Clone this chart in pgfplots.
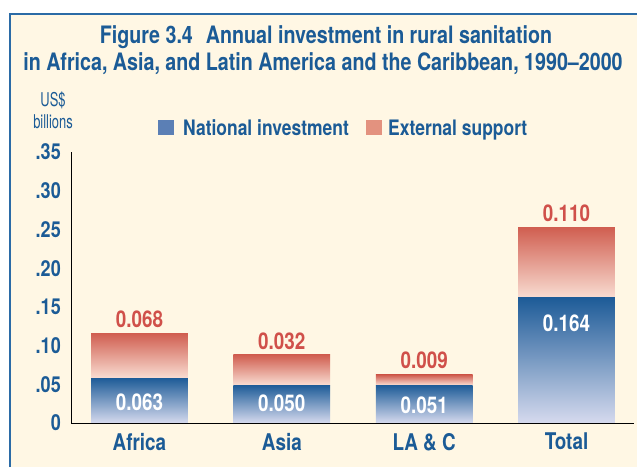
\documentclass[border=0pt]{standalone}
\usepackage{fontspec}
\setmainfont{TeX Gyre Heros}[FakeStretch=0.82]
\newfontfamily\narrowfont{TeX Gyre Heros}[FakeStretch=0.68]
\usepackage{pgfplots}
\pgfplotsset{compat=1.18}
\usepackage{pgfplotstable}

\definecolor{bg}{HTML}{FFF7E4}
\definecolor{frame}{HTML}{2B6BA6}
\definecolor{tblue}{HTML}{1B5B96}
\definecolor{nattop}{HTML}{1E5C98}
\definecolor{natbot}{HTML}{D6DAEE}
\definecolor{exttop}{HTML}{D05E50}
\definecolor{extbot}{HTML}{F9DDD2}
\definecolor{vred}{HTML}{D0504A}
\definecolor{legblue}{HTML}{5B7FB5}
\definecolor{legred}{HTML}{E3927F}

\newcommand\valfont{\bfseries\fontsize{23}{23}\selectfont}

% bar heights as drawn; labels as printed
\pgfplotstableread{
x nat ext natlab extlab
0 0.058 0.058 0.063 0.068
1 0.049 0.039 0.050 0.032
2 0.049 0.013 0.051 0.009
3 0.1615 0.0915 0.164 0.110
}\data

\pgfplotsset{
  catax/.style={at={(71pt,44pt)}, anchor=south west, scale only axis,
    width=563pt, height=271pt, xmin=-0.481, xmax=3.474, ymin=0, ymax=0.35,
    ybar stacked, bar width=0.68, point meta=explicit symbolic,
    nodes near coords, clip=false},
  natbar/.style={draw=none, top color=nattop, bottom color=natbot,
    every node near coord/.style={anchor=center, yshift=#1, text=white, font=\valfont}},
  extbar/.style={draw=none, top color=exttop, bottom color=extbot,
    every node near coord/.style={anchor=center, yshift=#1, text=vred, font=\valfont}},
}

\begin{document}
\begin{tikzpicture}[x=1pt,y=1pt]
\fill[white] (0,0) rectangle (637,467);
\fill[bg] (10,0) rectangle (637,453);
\draw[frame, line width=1.4pt] (10,0) -- (10,453) -- (637,453);

\node[anchor=base, text=tblue, font=\bfseries\fontsize{24}{24}\selectfont] at (326,423) {Figure 3.4\hspace{13pt}Annual investment in rural sanitation};
\node[anchor=base, text=tblue, font=\bfseries\fontsize{24}{24}\selectfont] at (323,396) {in Africa, Asia, and Latin America and the Caribbean, 1990--2000};

\node[anchor=base, text=tblue, font=\narrowfont\fontsize{19}{19}\selectfont] at (53,360) {US\$};
\node[anchor=base, text=tblue, font=\narrowfont\fontsize{19}{19}\selectfont] at (53,339) {billions};

\fill[legblue] (158,332) rectangle (174,347);
\node[anchor=base west, inner sep=0pt, text=tblue, font=\bfseries\fontsize{21.3}{21.3}\selectfont] at (183,332) {National investment};
\fill[legred] (366,332) rectangle (382,347);
\node[anchor=base west, inner sep=0pt, text=tblue, font=\bfseries\fontsize{21.3}{21.3}\selectfont] at (388,332) {External support};

% Africa
\begin{axis}[catax, hide axis]
\addplot[natbar=-1.5pt] table[x=x, y=nat, meta=natlab, restrict x to domain=0:0] {\data};
\addplot[extbar=36pt] table[x=x, y=ext, meta=extlab, restrict x to domain=0:0] {\data};
\end{axis}
% Asia
\begin{axis}[catax, hide axis]
\addplot[natbar=1pt] table[x=x, y=nat, meta=natlab, restrict x to domain=1:1] {\data};
\addplot[extbar=28.6pt] table[x=x, y=ext, meta=extlab, restrict x to domain=1:1] {\data};
\end{axis}
% LA & C
\begin{axis}[catax, hide axis]
\addplot[natbar=-1pt] table[x=x, y=nat, meta=natlab, restrict x to domain=2:2] {\data};
\addplot[extbar=19.5pt] table[x=x, y=ext, meta=extlab, restrict x to domain=2:2] {\data};
\end{axis}
% Total, with the axis lines and tick labels
\begin{axis}[catax, axis on top,
  axis x line=bottom, axis y line=left,
  axis line style={-, black, line width=0.9pt},
  xtick={0,1,2,3}, xticklabels={Africa, Asia, LA \& C, Total},
  ytick={0,0.05,0.1,0.15,0.2,0.25,0.3,0.35},
  yticklabels={0,.05,.10,.15,.20,.25,.30,.35},
  major tick length=0pt,
  tick label style={text=tblue},
  yticklabel style={font=\bfseries\fontsize{22}{22}\selectfont, anchor=east, inner sep=0pt, xshift=-10pt},
  xticklabel style={font=\bfseries\fontsize{23}{23}\selectfont, anchor=north, inner sep=0pt, yshift=-10pt},
]
\addplot[natbar=37.5pt] table[x=x, y=nat, meta=natlab, restrict x to domain=3:3] {\data};
\addplot[extbar=49.5pt] table[x=x, y=ext, meta=extlab, restrict x to domain=3:3] {\data};
\end{axis}
\pgfresetboundingbox
\path (0,0) rectangle (637,467);
\end{tikzpicture}
\end{document}
